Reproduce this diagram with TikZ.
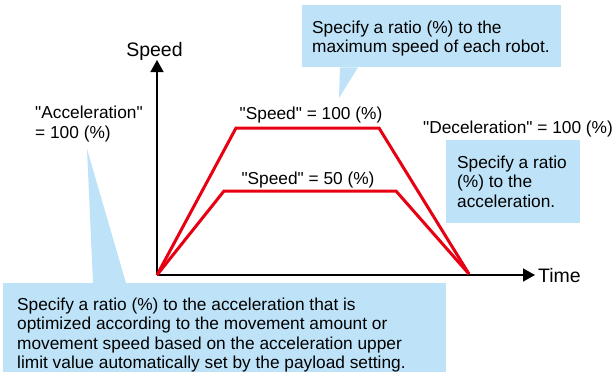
\documentclass[tikz,border=0pt]{standalone}
\usepackage{fontspec}
\setmainfont{Liberation Sans}[Ligatures=TeXOff]
\usetikzlibrary{arrows.meta}
\definecolor{calloutblue}{HTML}{BEE3F8}
\definecolor{profilered}{HTML}{E60012}
\begin{document}
\begin{tikzpicture}[x=1pt, y=-1pt,
    axisline/.style={line width=1.5pt, -{Triangle[length=12pt, width=13pt]}},
    profile/.style={profilered, line width=3pt},
    txt/.style={inner sep=0pt, font=\fontsize{17.3}{19.5}\selectfont},
    axistext/.style={inner sep=0pt, font=\fontsize{19.5}{22}\selectfont},
    notebox/.style={fill=calloutblue, anchor=north west, inner sep=0pt},
    notetext/.style={txt, anchor=north west, align=left}]
    \useasboundingbox (0,0) rectangle (614,378);

    % Axes
    \coordinate (origin) at (157,275);
    \coordinate (ytip) at (157,60);
    \coordinate (xtip) at (535,275);
    \draw[axisline] (origin) -- (ytip);
    \draw[axisline] (origin) -- (xtip);
    \node[axistext, anchor=base] (speedlabel) at (154.5,56) {Speed};
    \node[axistext, anchor=base west] (timelabel) at (538,282) {Time};

    % Speed profiles
    \coordinate (stop) at (469,274);
    \draw[profile] (origin) -- (236,128) -- (379,128) -- (stop);
    \draw[profile] (origin) -- (224,191) -- (396,191) -- (stop);

    % Labels
    \node[txt, anchor=base] (speed100) at (311,119) {"Speed" = 100 (\%)};
    \node[txt, anchor=base] (speed50) at (308,184) {"Speed" = 50 (\%)};
    \node[txt, anchor=base west] (decel) at (423,133) {"Deceleration" = 100 (\%)};
    \node[notetext, font=\fontsize{17.3}{20.5}\selectfont] (accel) at (35,105.4) {"Acceleration"\\= 100 (\%)};

    % Callout boxes
    \node[notebox, minimum width=259pt, minimum height=62pt] (maxbox) at (302,5) {};
    \node[notetext] (maxtext) at ([xshift=10pt, yshift=-15.4pt]maxbox.north west)
        {Specify a ratio (\%) to the\\maximum speed of each robot.};
    \coordinate (maxtip) at (339,98);
    \fill[calloutblue] ([xshift=38pt]maxbox.south west) -- ([xshift=56pt]maxbox.south west) -- (maxtip) -- cycle;

    \node[notebox, minimum width=134pt, minimum height=83pt] (decbox) at (446,140) {};
    \node[notetext] (dectext) at ([xshift=11pt, yshift=-15.4pt]decbox.north west)
        {Specify a ratio\\(\%) to the\\acceleration.};

    \node[notebox, minimum width=443pt, minimum height=89pt] (accbox) at (3,283) {};
    \node[notetext] (acctext) at ([xshift=14pt, yshift=-14.4pt]accbox.north west)
        {Specify a ratio (\%) to the acceleration that is\\optimized according to the movement amount or\\movement speed based on the acceleration upper\\limit value automatically set by the payload setting.};
    \coordinate (acctip) at (87,149);
    \fill[calloutblue] ([xshift=90pt]accbox.north west) -- ([xshift=123pt]accbox.north west) -- (acctip) -- cycle;
\end{tikzpicture}
\end{document}
